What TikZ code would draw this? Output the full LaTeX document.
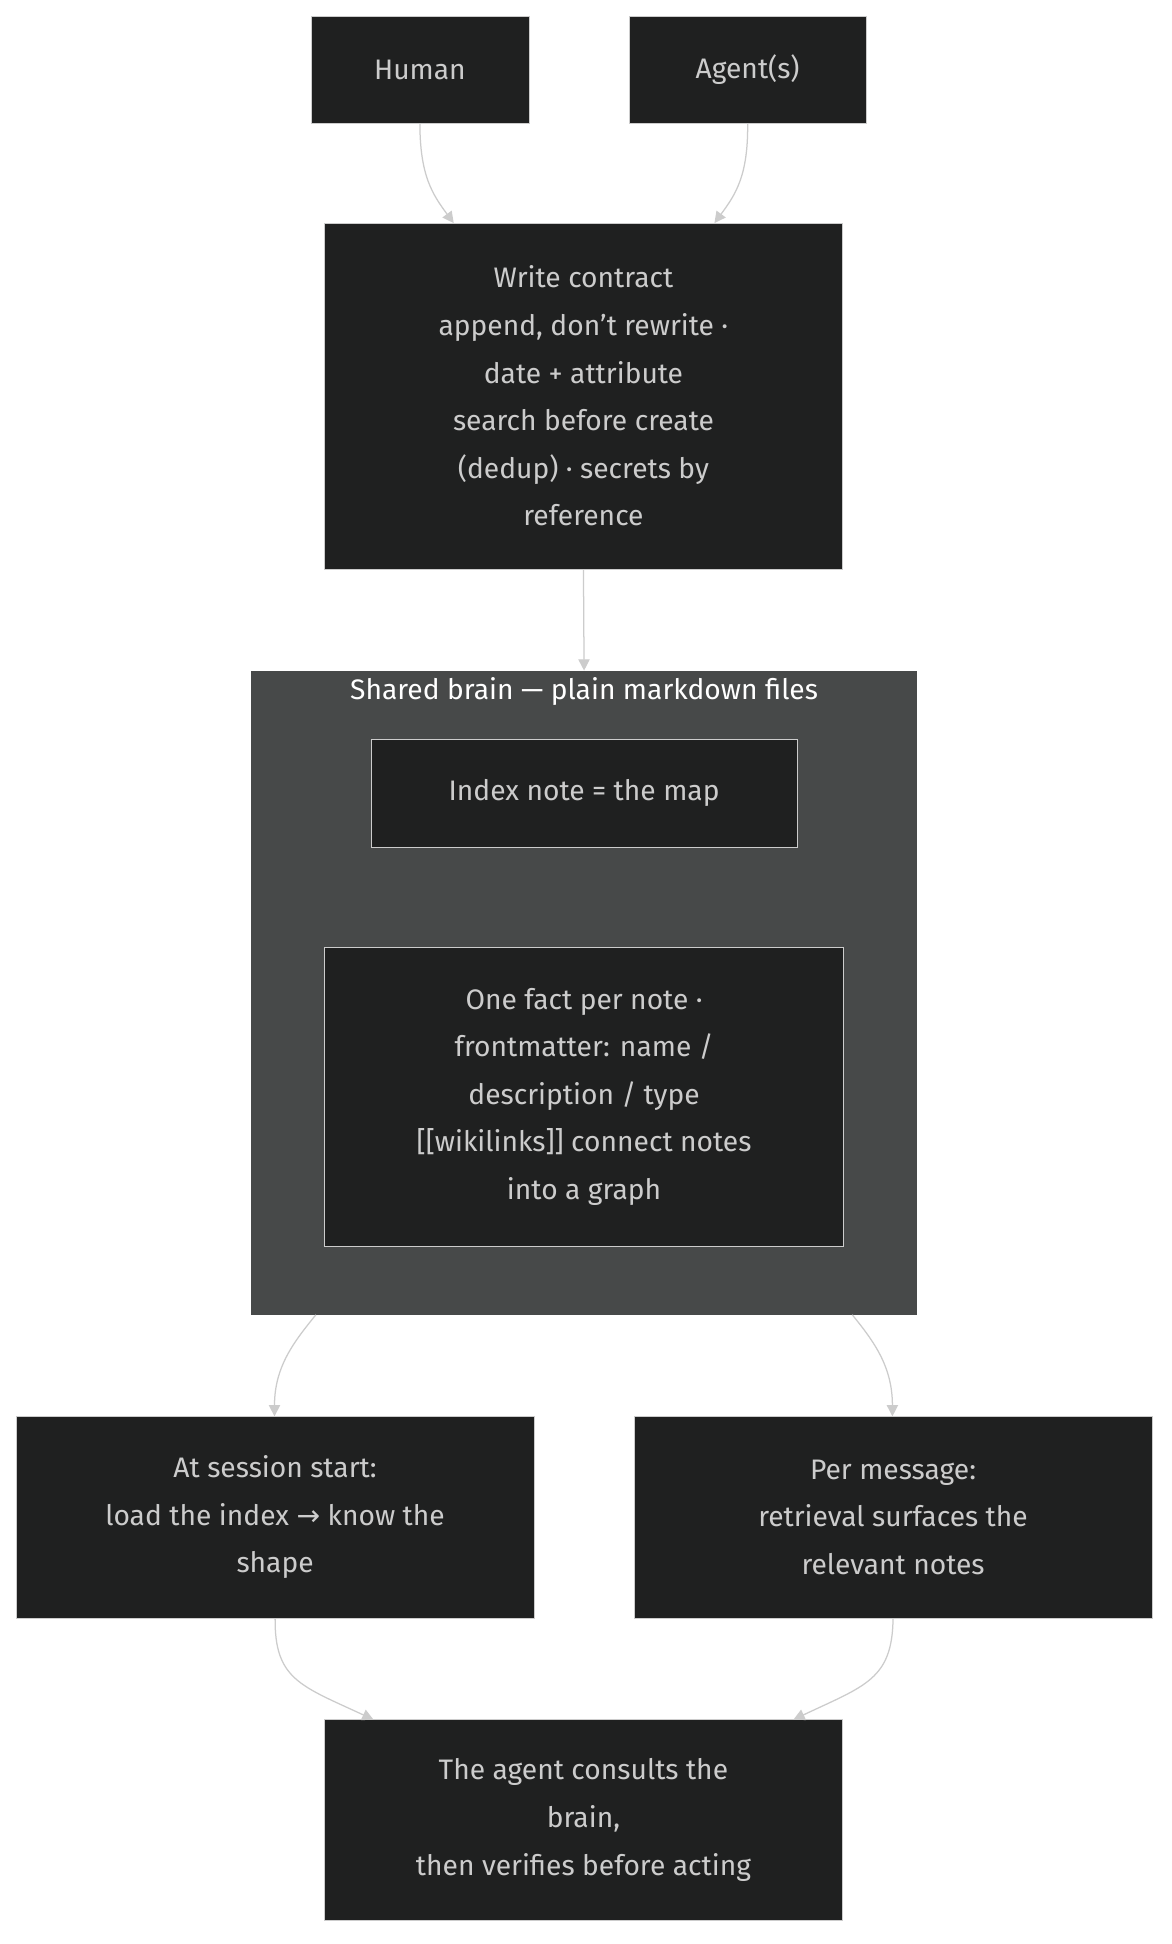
\documentclass[tikz,border=0pt]{standalone}
\usepackage{fontspec}
\setmainfont{Fira Sans}
\newfontfamily\arrowfont{DejaVu Sans}
\usetikzlibrary{positioning,arrows.meta}
\definecolor{boxfill}{HTML}{1F2020}
\definecolor{boxline}{HTML}{CCCCCC}
\definecolor{clusterfill}{HTML}{474949}
\tikzset{
	box/.style={draw=boxline, fill=boxfill, text=boxline, align=center, inner sep=0pt, font=\fontsize{22.5}{38}\selectfont},
	flow/.style={draw=boxline, line width=1pt, -{Triangle[length=9pt,width=9pt]}}
}
\begin{document}
\begin{tikzpicture}[x=1pt,y=-1pt]
	\useasboundingbox[fill=white] (0,0) rectangle (935,1551);
	\fill[clusterfill] (200,535) rectangle (732,1049);
	\node[text=white, font=\fontsize{22.5}{24}\selectfont] (title) at (466,552) {Shared brain — plain markdown files};

	\node[box, minimum width=174pt, minimum height=85pt] (human) at (335,55.5) {Human};
	\node[box, minimum width=189pt, minimum height=85pt] (agent) at (596.5,55.5) {Agent(s)};
	\node[box, minimum width=413pt, minimum height=276pt] (write) at (465.5,316) {Write contract\\append, don't rewrite ·\\date + attribute\\search before create\\(dedup) · secrets by\\reference};
	\node[box, minimum width=340pt, minimum height=86pt] (index) at (466,633) {Index note = the map};
	\node[box, minimum width=414pt, minimum height=238pt] (fact) at (466,875) {One fact per note ·\\frontmatter: name /\\description / type\\{[}{[}wikilinks{]}{]} connect notes\\into a graph};
	\node[box, minimum width=413pt, minimum height=161pt] (session) at (219.5,1210.5) {At session start:\\load the index {\arrowfont →} know the\\shape};
	\node[box, minimum width=413pt, minimum height=161pt] (message) at (712.5,1210.5) {Per message:\\retrieval surfaces the\\relevant notes};
	\node[box, minimum width=413pt, minimum height=160pt] (consult) at (465.5,1452) {The agent consults the\\brain,\\then verifies before acting};

	\coordinate (cl) at (252,1049);
	\coordinate (cr) at (680,1049);
	\coordinate (ctop) at (466,535);

	\draw[flow] (human.south) .. controls (335,140) and (345,155) .. (362,178);
	\draw[flow] (agent.south) .. controls (597,140) and (587,155) .. (570,178);
	\draw[flow] (write.south) -- (ctop);
	\draw[flow] (cl) .. controls (235,1070) and (219,1090) .. (219,1130);
	\draw[flow] (cr) .. controls (697,1070) and (712,1090) .. (712,1130);
	\draw[flow] (session.south) .. controls (219,1340) and (240,1345) .. (298,1372);
	\draw[flow] (message.south) .. controls (712,1340) and (690,1345) .. (633,1372);
\end{tikzpicture}
\end{document}
